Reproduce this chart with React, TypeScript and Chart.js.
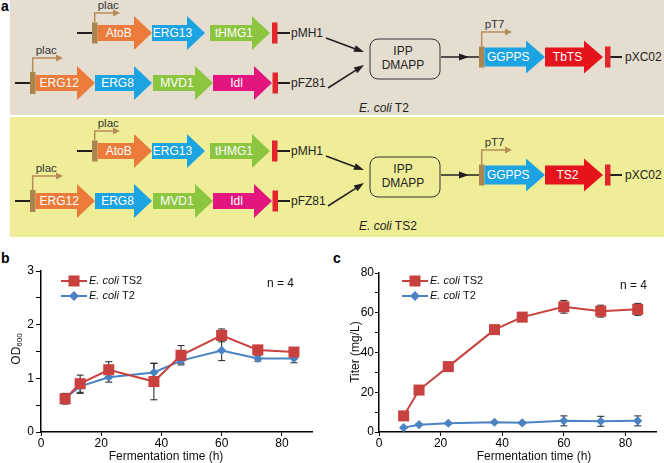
import React, { useEffect, useRef } from 'react';
import { Chart, registerables } from 'chart.js';
Chart.register(...registerables);

const F = "'Liberation Sans', Arial, Helvetica, sans-serif";

// ---------- data ----------
const hours = [8, 13, 22.5, 37.5, 46.5, 60, 72, 84];
const strainPrefix = 'E. coli';
const strainNames = ['TS2', 'T2'];
const odTS2 = [0.62, 0.9, 1.16, 0.94, 1.43, 1.8, 1.53, 1.49];
const odTS2Err = [0.1, 0.16, 0.15, 0.34, 0.18, 0.12, 0.03, 0.05];
const odT2 = [0.63, 0.85, 1.02, 1.11, 1.33, 1.52, 1.37, 1.37];
const odT2Err = [0.05, 0.13, 0.09, 0.17, 0.05, 0.19, 0.05, 0.08];
const titerTS2 = [8.1, 21.1, 32.9, 51.5, 57.8, 63.0, 60.8, 61.7];
const titerTS2Err = [0.5, 0.5, 0.6, 0.8, 0.8, 3.2, 3.0, 3.0];
const titerT2 = [2.2, 3.7, 4.4, 4.9, 4.6, 5.6, 5.4, 5.6];
const titerT2Err = [0.3, 0.4, 0.4, 0.4, 0.5, 2.5, 2.5, 2.5];
const xTicks = [0, 20, 40, 60, 80];
const odTicks = [0, 0.5, 1, 1.5, 2, 2.5, 3];
const titerTicks = [0, 10, 20, 30, 40, 50, 60, 70, 80];
const sampleNote = 'n = 4';

const RED = '#c8413f';
const BLUE = '#4a82c3';

// ---------- plugins ----------
const errorBarPlugin = {
  id: 'errorBars',
  beforeDatasetsDraw(chart: any) {
    const ctx = chart.ctx;
    const ys = chart.scales.y;
    const xs = chart.scales.x;
    chart.data.datasets.forEach((ds: any) => {
      ds.data.forEach((d: any, j: number) => {
        const x = xs.getPixelForValue(d.x);
        const e = ds.errors[j];
        const t = ys.getPixelForValue(d.y + e);
        const b = ys.getPixelForValue(d.y - e);
        ctx.save();
        ctx.strokeStyle = '#222';
        ctx.lineWidth = 1;
        ctx.beginPath();
        ctx.moveTo(x, t); ctx.lineTo(x, b);
        ctx.moveTo(x - 3.5, t); ctx.lineTo(x + 3.5, t);
        ctx.moveTo(x - 3.5, b); ctx.lineTo(x + 3.5, b);
        ctx.stroke();
        ctx.restore();
      });
    });
  },
};

const decorPlugin = {
  id: 'decor',
  afterDraw(chart: any, _a: any, o: any) {
    const ctx = chart.ctx;
    ctx.save();
    chart.data.datasets.forEach((ds: any, k: number) => {
      const y = o.legendY + k * 15;
      const x = o.legendX;
      ctx.strokeStyle = ds.borderColor;
      ctx.lineWidth = 2;
      ctx.beginPath(); ctx.moveTo(x, y); ctx.lineTo(x + 26, y); ctx.stroke();
      ctx.fillStyle = ds.borderColor;
      const cx = x + 13;
      if (ds.pointStyle === 'rect') {
        ctx.fillRect(cx - 5.5, y - 5.5, 11, 11);
      } else {
        ctx.beginPath();
        ctx.moveTo(cx - 5, y); ctx.lineTo(cx, y - 5); ctx.lineTo(cx + 5, y); ctx.lineTo(cx, y + 5);
        ctx.closePath(); ctx.fill();
      }
      ctx.fillStyle = '#111';
      ctx.textBaseline = 'middle';
      ctx.textAlign = 'left';
      ctx.font = `italic 11px ${F}`;
      ctx.fillText(strainPrefix, x + 28, y);
      const w = ctx.measureText(strainPrefix + ' ').width;
      ctx.font = `11px ${F}`;
      ctx.fillText(ds.label, x + 28 + w, y);
    });
    ctx.font = `12px ${F}`;
    ctx.fillStyle = '#111';
    ctx.textBaseline = 'middle';
    ctx.textAlign = 'left';
    ctx.fillText(sampleNote, o.nX, o.nY);
    // x title
    ctx.textAlign = 'center';
    ctx.font = `12px ${F}`;
    ctx.fillText(o.xTitle, o.xTitleX, o.xTitleY);
    // y title
    ctx.translate(o.yTitleX, o.yTitleY);
    ctx.rotate(-Math.PI / 2);
    ctx.textAlign = 'left';
    ctx.textBaseline = 'alphabetic';
    ctx.font = `12px ${F}`;
    const w1 = ctx.measureText(o.yTitle).width;
    let w2 = 0;
    if (o.yTitleSub) {
      ctx.font = `8px ${F}`;
      w2 = ctx.measureText(o.yTitleSub).width;
    }
    const start = -(w1 + w2) / 2;
    ctx.font = `12px ${F}`;
    ctx.fillText(o.yTitle, start, 4.5);
    if (o.yTitleSub) {
      ctx.font = `8px ${F}`;
      ctx.fillText(o.yTitleSub, start + w1, 7);
    }
    ctx.restore();
  },
};

function makeConfig(p: any): any {
  const mk = (vals: number[], errs: number[], label: string, color: string, style: string, r: number) => ({
    label,
    data: hours.map((h, i) => ({ x: h, y: vals[i] })),
    errors: errs,
    borderColor: color,
    backgroundColor: color,
    pointBackgroundColor: color,
    pointBorderColor: color,
    pointStyle: style,
    pointRadius: r,
    pointBorderWidth: 0,
    borderWidth: 2,
    tension: 0,
    clip: false,
  });
  return {
    type: 'line',
    data: {
      datasets: [
        mk(p.ts2, p.ts2Err, strainNames[0], RED, 'rect', 7.8),
        mk(p.t2, p.t2Err, strainNames[1], BLUE, 'rectRot', 4.6),
      ],
    },
    options: {
      animation: false,
      responsive: false,
      events: [],
      layout: { padding: { top: p.padTop, right: p.padRight, left: 0, bottom: 0 } },
      plugins: {
        legend: { display: false },
        tooltip: { enabled: false },
        decor: p.decor,
      },
      scales: {
        x: {
          type: 'linear',
          min: 0,
          max: 90,
          afterBuildTicks: (s: any) => { s.ticks = xTicks.map((v) => ({ value: v })); },
          afterFit: (s: any) => { s.height = 31; },
          grid: { drawOnChartArea: false, drawTicks: true, tickLength: 4, color: '#000', lineWidth: 1 },
          border: { color: '#000', width: 1.5 },
          ticks: { color: '#000', font: { size: 12, family: F }, padding: 0, maxRotation: 0, autoSkip: false },
        },
        y: {
          type: 'linear',
          min: p.yMin,
          max: p.yMax,
          afterBuildTicks: (s: any) => { s.ticks = p.yTicks.map((v: number) => ({ value: v })); },
          afterFit: (s: any) => { s.width = p.yWidth; },
          grid: { drawOnChartArea: false, drawTicks: true, tickLength: p.yTickLen, color: '#000', lineWidth: 1 },
          border: { color: '#000', width: 1.5 },
          ticks: {
            color: '#000',
            font: { size: 12, family: F },
            padding: p.yPad,
            autoSkip: false,
            callback: (v: number) => (p.labelled(v) ? String(v) : ''),
          },
        },
      },
    },
    plugins: [errorBarPlugin, decorPlugin],
  };
}

function ChartCanvas({ cfg, left }: { cfg: any; left: number }) {
  const ref = useRef<HTMLCanvasElement>(null);
  useEffect(() => {
    const chart = new Chart(ref.current as HTMLCanvasElement, cfg);
    return () => chart.destroy();
  }, []);
  return (
    <canvas
      ref={ref}
      width={332}
      height={213}
      style={{ position: 'absolute', left, top: 250, width: 332, height: 213 }}
    />
  );
}

// ---------- scheme (panel a) ----------
const C = {
  orange: '#ea7b3a',
  blue: '#1ca3e1',
  green: '#8cc540',
  magenta: '#e3167f',
  red: '#e5141c',
  brown: '#a9854f',
  tan: '#b88c57',
  term: '#e3262b',
  ink: '#231f20',
};

function Gene({ x0, x1, cy, color, label, bh = 8, hh = 17, hl = 18 }: any) {
  const xh = x1 - hl;
  const pts = `${x0},${cy - bh} ${xh},${cy - bh} ${xh},${cy - hh} ${x1},${cy} ${xh},${cy + hh} ${xh},${cy + bh} ${x0},${cy + bh}`;
  return (
    <g>
      <polygon points={pts} fill={color} />
      <text x={(x0 + xh) / 2 + 3} y={cy + 4.3} fill="#fff" fontSize={12} textAnchor="middle" fontFamily={F}>
        {label}
      </text>
    </g>
  );
}

function Promoter({ x, cy, h, rise, end, label }: any) {
  const px = x + 2.7;
  return (
    <g>
      <rect x={x} y={cy - h / 2} width={5.5} height={h} fill={C.brown} />
      <path d={`M${px},${cy - h / 2} V${rise} H${end - 5}`} stroke={C.tan} strokeWidth={1.5} fill="none" />
      <polygon points={`${end},${rise} ${end - 7},${rise - 3.5} ${end - 7},${rise + 3.5}`} fill={C.tan} />
      <text x={px + 3} y={rise - 4} fontSize={11.5} fill="#333" fontFamily={F}>
        {label}
      </text>
    </g>
  );
}

function Arrow({ x1, y1, x2, y2 }: any) {
  const a = Math.atan2(y2 - y1, x2 - x1);
  const L = 10, W = 3.5;
  const bx = x2 - L * Math.cos(a), by = y2 - L * Math.sin(a);
  const p1 = `${bx - W * Math.sin(a)},${by + W * Math.cos(a)}`;
  const p2 = `${bx + W * Math.sin(a)},${by - W * Math.cos(a)}`;
  return (
    <g>
      <line x1={x1} y1={y1} x2={bx + 1 * Math.cos(a)} y2={by + 1 * Math.sin(a)} stroke={C.ink} strokeWidth={1.6} />
      <polygon points={`${x2},${y2} ${p1} ${p2}`} fill={C.ink} />
    </g>
  );
}

function Term({ x, cy }: any) {
  return <rect x={x} y={cy - 10.5} width={5.5} height={21} fill={C.term} />;
}

function Scheme({ dy, strain, ts }: any) {
  const r1 = 33, r2 = 83, rc = 57;
  return (
    <g transform={`translate(0,${dy})`}>
      {/* pMH1 */}
      <line x1={77} y1={r1} x2={92} y2={r1} stroke={C.ink} strokeWidth={2} />
      <line x1={277} y1={r1} x2={290} y2={r1} stroke={C.ink} strokeWidth={2} />
      <Promoter x={92} cy={r1} h={21} rise={13} end={120} label="plac" />
      <Gene x0={97.5} x1={152} cy={r1} color={C.orange} label="AtoB" />
      <Gene x0={152} x1={205} cy={r1} color={C.blue} label="ERG13" />
      <Gene x0={210} x1={270} cy={r1} color={C.green} label="tHMG1" />
      <Term x={272} cy={r1} />
      <text x={291} y={r1 + 4.3} fontSize={12} fill={C.ink} fontFamily={F}>pMH1</text>
      {/* pFZ81 */}
      <line x1={15} y1={r2} x2={30} y2={r2} stroke={C.ink} strokeWidth={2} />
      <line x1={278} y1={r2} x2={290} y2={r2} stroke={C.ink} strokeWidth={2} />
      <Promoter x={30} cy={r2} h={22} rise={58} end={63} label="plac" />
      <Gene x0={35.5} x1={95} cy={r2} color={C.orange} label="ERG12" />
      <Gene x0={95} x1={152} cy={r2} color={C.blue} label="ERG8" />
      <Gene x0={153} x1={213} cy={r2} color={C.green} label="MVD1" />
      <Gene x0={213} x1={272} cy={r2} color={C.magenta} label="Idl" />
      <Term x={272.5} cy={r2} />
      <text x={291} y={r2 + 4.3} fontSize={12} fill={C.ink} fontFamily={F}>pFZ81</text>
      {/* converging arrows */}
      <Arrow x1={326} y1={38} x2={364} y2={52} />
      <Arrow x1={328} y1={88} x2={364} y2={65} />
      {/* IPP box */}
      <rect x={370} y={39} width={70} height={40} rx={8} ry={8} fill="none" stroke="#333" strokeWidth={1} />
      <text x={403} y={55} fontSize={12} fill={C.ink} textAnchor="middle" fontFamily={F}>IPP</text>
      <text x={403} y={68.5} fontSize={12} fill={C.ink} textAnchor="middle" fontFamily={F}>DMAPP</text>
      <line x1={441} y1={rc} x2={480} y2={rc} stroke={C.ink} strokeWidth={1.6} />
      <polygon points={`469,${rc} 459,${rc - 3.5} 459,${rc + 3.5}`} fill={C.ink} />
      <line x1={610} y1={rc} x2={622} y2={rc} stroke={C.ink} strokeWidth={2} />
      <Promoter x={479} cy={rc} h={21} rise={32} end={512} label="pT7" />
      <Gene x0={484.5} x1={545} cy={rc} color={C.blue} label="GGPPS" bh={9.5} hh={16.5} hl={19} />
      <Gene x0={545} x1={603} cy={rc} color={C.red} label={ts} bh={9.5} hh={16.5} hl={19} />
      <Term x={605} cy={rc} />
      <text x={625} y={rc + 4.3} fontSize={12} fill={C.ink} fontFamily={F}>pXC02</text>
      {/* strain label */}
      <text x={359} y={111.5} fontSize={12} fill={C.ink} fontFamily={F}>
        <tspan fontStyle="italic">E. coli</tspan> {strain}
      </text>
    </g>
  );
}

export default function App() {
  const cfgB = makeConfig({
    ts2: odTS2, ts2Err: odTS2Err, t2: odT2, t2Err: odT2Err,
    yMin: 0, yMax: 3, yTicks: odTicks, yWidth: 41, yTickLen: 5, yPad: 2,
    padTop: 21, padRight: 20,
    labelled: (v: number) => Number.isInteger(v),
    decor: {
      legendX: 61, legendY: 31, nX: 267, nY: 34,
      xTitle: 'Fermentation time (h)', xTitleX: 166, xTitleY: 207,
      yTitle: 'OD', yTitleSub: '600', yTitleX: 15, yTitleY: 99,
    },
  });
  const cfgC = makeConfig({
    ts2: titerTS2, ts2Err: titerTS2Err, t2: titerT2, t2Err: titerT2Err,
    yMin: 0, yMax: 80, yTicks: titerTicks, yWidth: 47, yTickLen: 4, yPad: 1,
    padTop: 23, padRight: 0,
    labelled: (v: number) => v % 20 === 0,
    decor: {
      legendX: 70, legendY: 31, nX: 288, nY: 36,
      xTitle: 'Fermentation time (h)', xTitleX: 202, xTitleY: 207,
      yTitle: 'Titer (mg/L)', yTitleSub: '', yTitleX: 22, yTitleY: 102,
    },
  });
  return (
    <div style={{ position: 'absolute', left: 0, top: 0, width: 664, height: 463, background: '#fff', overflow: 'hidden' }}>
      <svg width={664} height={463} style={{ position: 'absolute', left: 0, top: 0 }} fontFamily={F}>
        <rect x={10} y={0} width={654} height={115} fill="#e6ddd1" />
        <rect x={10} y={117} width={654} height={120} fill="#efed98" />
        <text x={1} y={11} fontSize={14} fontWeight="bold" fill="#000">a</text>
        <Scheme dy={0} strain="T2" ts="TbTS" />
        <Scheme dy={118} strain="TS2" ts="TS2" />
        <text x={1} y={263} fontSize={14} fontWeight="bold" fill="#000">b</text>
        <text x={333} y={263} fontSize={14} fontWeight="bold" fill="#000">c</text>
      </svg>
      <ChartCanvas cfg={cfgB} left={0} />
      <ChartCanvas cfg={cfgC} left={332} />
    </div>
  );
}
